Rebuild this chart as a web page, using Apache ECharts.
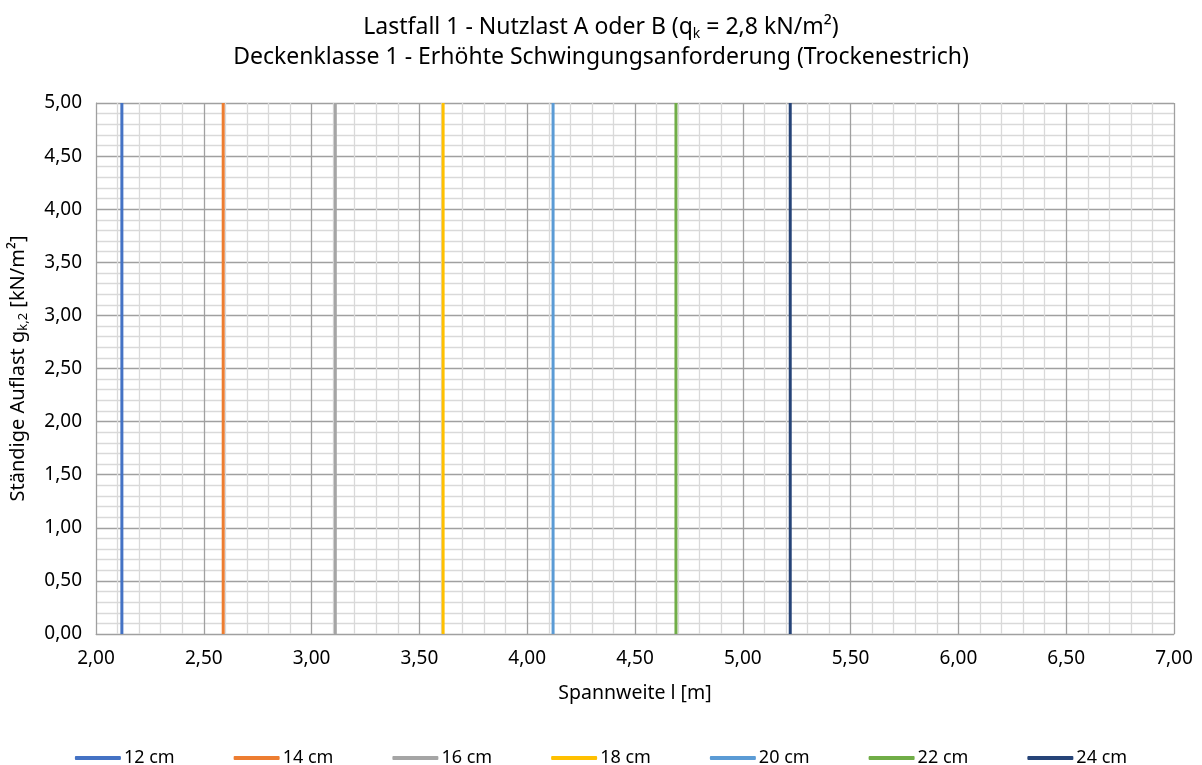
<!DOCTYPE html>
<html>
<head>
<meta charset="utf-8">
<script src="https://cdn.jsdelivr.net/npm/echarts@6/dist/echarts.min.js"></script>
<style>html,body{margin:0;padding:0;background:#fff}#c{width:1202px;height:765px}</style>
</head>
<body>
<div id="c"></div>
<script>
// Data
var seriesNames = ['12 cm', '14 cm', '16 cm', '18 cm', '20 cm', '22 cm', '24 cm'];
var spanValues = [2.12, 2.59, 3.11, 3.61, 4.12, 4.69, 5.22];   // Spannweite l [m] of each vertical line
var loadRange = [0, 5];                                          // g_k,2 from .. to
var seriesColors = ['#4472C4', '#ED7D31', '#A5A5A5', '#FFC000', '#5B9BD5', '#70AD47', '#264478'];
var xTicks = { min: 2, max: 7, interval: 0.5 };
var yTicks = { min: 0, max: 5, interval: 0.5 };

var FONT = 'Noto Sans';
var chart = echarts.init(document.getElementById('c'), null, { renderer: 'canvas' });

function fmt(v) { return v.toFixed(2).replace('.', ','); }

var series = seriesNames.map(function (n, i) {
  return {
    name: n,
    type: 'line',
    data: [[spanValues[i], loadRange[0]], [spanValues[i], loadRange[1]]],
    showSymbol: false,
    symbol: 'none',
    lineStyle: { width: 3, color: seriesColors[i], cap: 'butt' },
    itemStyle: { color: seriesColors[i] },
    silent: true,
    z: 5
  };
});

chart.setOption({
  animation: false,
  backgroundColor: '#ffffff',
  textStyle: { fontFamily: FONT },
  title: [{
    text: '{a|Lastfall 1 - Nutzlast A oder B (q}{s|k}{a| = 2,8 kN/m²)}',
    left: 'center', top: 9,
    textStyle: {
      rich: {
        a: { fontFamily: FONT, fontSize: 23, color: '#000', fontWeight: 'normal' },
        s: { fontFamily: FONT, fontSize: 14, color: '#000', fontWeight: 'normal', padding: [13, 0, 0, 0] }
      }
    }
  }, {
    text: 'Deckenklasse 1 - Erhöhte Schwingungsanforderung (Trockenestrich)',
    left: 'center', top: 41,
    textStyle: { fontFamily: FONT, fontSize: 23, color: '#000', fontWeight: 'normal' }
  }],
  legend: {
    top: 744,
    left: 'center',
    itemWidth: 46,
    itemHeight: 4,
    itemGap: 59,
    icon: 'roundRect',
    textStyle: { fontFamily: FONT, fontSize: 18, color: '#000', padding: [0, 0, 0, -2] },
    data: seriesNames
  },
  grid: { left: 94, top: 103, right: 28, bottom: 131, containLabel: false },
  xAxis: {
    type: 'value',
    min: xTicks.min, max: xTicks.max, interval: xTicks.interval,
    name: 'Spannweite l [m]',
    nameLocation: 'middle',
    nameGap: 49,
    nameTextStyle: { fontFamily: FONT, fontSize: 19.5, color: '#000' },
    axisLine: { show: true, lineStyle: { color: '#a0a0a0', width: 1 } },
    axisTick: { show: false },
    axisLabel: { formatter: fmt, fontFamily: FONT, fontSize: 19, color: '#000', margin: 15 },
    splitLine: { show: true, lineStyle: { color: '#a0a0a0', width: 1.3 } },
    minorTick: { show: false, splitNumber: 5 },
    minorSplitLine: { show: true, lineStyle: { color: '#d9d9d9', width: 1.3 } }
  },
  yAxis: {
    type: 'value',
    min: yTicks.min, max: yTicks.max, interval: yTicks.interval,
    name: '{a|Ständige Auflast g}{s|k,2}{a| [kN/m²]}',
    nameLocation: 'middle',
    nameGap: 66,
    nameRotate: 90,
    nameTextStyle: {
      rich: {
        a: { fontFamily: FONT, fontSize: 20, color: '#000' },
        s: { fontFamily: FONT, fontSize: 13, color: '#000', padding: [11, 0, 0, 0] }
      }
    },
    axisLine: { show: true, lineStyle: { color: '#a0a0a0', width: 1 } },
    axisTick: { show: false },
    axisLabel: { formatter: fmt, fontFamily: FONT, fontSize: 19, color: '#000', margin: 14 },
    splitLine: { show: true, lineStyle: { color: '#a0a0a0', width: 1.3 } },
    minorTick: { show: false, splitNumber: 5 },
    minorSplitLine: { show: true, lineStyle: { color: '#d9d9d9', width: 1.3 } }
  },
  series: series
});
</script>
</body>
</html>
